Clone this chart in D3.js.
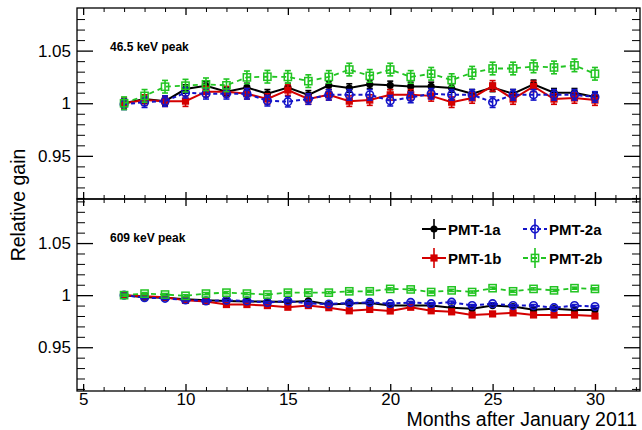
<!DOCTYPE html>
<html><head><meta charset="utf-8">
<script src="https://cdnjs.cloudflare.com/ajax/libs/d3/7.8.5/d3.min.js"></script>
<style>body{margin:0;background:#fff}svg{display:block}text{font-family:"Liberation Sans",Arial,sans-serif}</style>
</head><body><svg id="c" width="642" height="430"></svg>
<script>
const months = [7,8,9,10,11,12,13,14,15,16,17,18,19,20,21,22,23,24,25,26,27,28,29,30];
const seriesNames = ["PMT-1a","PMT-1b","PMT-2a","PMT-2b"];
// 46.5 keV peak
const up1a = [1.000,1.004,1.002,1.0135,1.0165,1.011,1.015,1.009,1.015,1.008,1.017,1.0145,1.018,1.017,1.016,1.016,1.0145,1.009,1.015,1.009,1.018,1.010,1.010,1.006];
const up1b = [1.000,1.003,1.002,1.002,1.011,1.011,1.009,1.004,1.0125,1.004,1.008,1.002,1.003,1.008,1.008,1.007,1.001,1.005,1.0165,1.004,1.016,1.004,1.005,1.003];
const up2a = [0.999,1.001,1.002,1.010,1.009,1.009,1.009,1.0024,1.0015,1.004,1.008,1.008,1.008,1.0024,1.0055,1.009,1.008,1.008,1.001,1.008,1.008,1.008,1.008,1.006];
const up2b = [1.000,1.007,1.0157,1.0167,1.018,1.017,1.0246,1.0252,1.025,1.021,1.025,1.032,1.026,1.032,1.025,1.028,1.022,1.029,1.033,1.033,1.035,1.034,1.036,1.028];
const upErr1a = [0.004,0.004,0.004,0.004,0.004,0.004,0.004,0.004,0.004,0.004,0.004,0.004,0.004,0.004,0.004,0.004,0.004,0.004,0.004,0.004,0.004,0.004,0.004,0.004];
const upErr1b = [0.005,0.005,0.005,0.005,0.005,0.005,0.005,0.005,0.005,0.005,0.005,0.005,0.005,0.005,0.005,0.005,0.005,0.005,0.005,0.005,0.005,0.005,0.005,0.005];
const upErr2a = [0.005,0.005,0.005,0.005,0.005,0.005,0.005,0.005,0.005,0.005,0.005,0.005,0.005,0.005,0.005,0.005,0.005,0.005,0.005,0.005,0.005,0.005,0.005,0.005];
const upErr2b = [0.006,0.006,0.006,0.006,0.006,0.006,0.006,0.006,0.006,0.006,0.006,0.006,0.006,0.006,0.006,0.006,0.006,0.006,0.006,0.006,0.006,0.006,0.006,0.006];
// 609 keV peak
const lo1a = [1.000,0.998,0.9976,0.996,0.995,0.9945,0.994,0.994,0.9935,0.9945,0.991,0.992,0.9924,0.990,0.990,0.990,0.9878,0.987,0.990,0.989,0.986,0.987,0.9857,0.9857];
const lo1b = [1.000,0.999,0.998,0.995,0.994,0.991,0.991,0.990,0.9884,0.990,0.988,0.985,0.9863,0.9848,0.9884,0.985,0.984,0.981,0.982,0.983,0.981,0.981,0.981,0.980];
const lo2a = [1.000,0.9976,0.997,0.9954,0.9945,0.995,0.9945,0.993,0.9945,0.992,0.9915,0.9924,0.993,0.9918,0.993,0.9918,0.9933,0.990,0.9918,0.990,0.990,0.988,0.990,0.989];
const lo2b = [1.000,1.0015,1.0006,0.9994,1.0015,1.0024,1.0015,1.0006,1.0024,1.0024,1.0024,1.0037,1.0037,1.006,1.0055,1.003,1.0046,1.003,1.0067,1.0037,1.006,1.0046,1.0067,1.006];
const loErr = [0.001,0.001,0.001,0.001,0.001,0.001,0.001,0.001,0.001,0.001,0.001,0.001,0.001,0.001,0.001,0.001,0.001,0.001,0.001,0.001,0.001,0.001,0.001,0.001];
const xTicks = [5,10,15,20,25,30];
const yTicks = [0.95,1,1.05];
const yTickLabels = ["0.95","1","1.05"];
const panelLabels = ["46.5 keV peak","609 keV peak"];
const xTitle = "Months after January 2011";
const yTitle = "Relative gain";

const L=77, R=640, T1=8, D=199, B=391;
const svg = d3.select("#c");
svg.append("rect").attr("width",642).attr("height",430).attr("fill","#fff");
const x = d3.scaleLinear().domain([4.7,32.2]).range([L,R]);
const yU = d3.scaleLinear().domain([0.909,1.0905]).range([D,T1]);
const yL = d3.scaleLinear().domain([0.908,1.0923]).range([B,D]);

const styles = {
  "PMT-1a": {color:"#000000", dash:null, marker:"circleF", w:2},
  "PMT-1b": {color:"#d40000", dash:null, marker:"squareF", w:2},
  "PMT-2a": {color:"#1414c8", dash:"4,3", marker:"circleO", w:2},
  "PMT-2b": {color:"#22c422", dash:"5,4", marker:"squareO", w:1.8}
};

function marker(g, type, cx, cy, color){
  if(type==="circleF") g.append("circle").attr("cx",cx).attr("cy",cy).attr("r",3.6).attr("fill",color);
  else if(type==="squareF") g.append("rect").attr("x",cx-3.6).attr("y",cy-3.6).attr("width",7.2).attr("height",7.2).attr("fill",color);
  else if(type==="circleO") g.append("circle").attr("cx",cx).attr("cy",cy).attr("r",3.8).attr("fill","none").attr("stroke",color).attr("stroke-width",1.6);
  else g.append("rect").attr("x",cx-3.6).attr("y",cy-3.6).attr("width",7.2).attr("height",7.2).attr("fill","none").attr("stroke",color).attr("stroke-width",1.5);
}

function drawSeries(g, y, name, vals, errs){
  const s = styles[name];
  const pts = months.map((m,i)=>[m,vals[i],errs[i]]);
  g.append("path").datum(pts).attr("fill","none").attr("stroke",s.color).attr("stroke-width",s.w)
    .attr("stroke-dasharray",s.dash).attr("d",d3.line().x(d=>x(d[0])).y(d=>y(d[1])));
  pts.forEach(d=>{
    const cx=x(d[0]), y0=y(d[1]-d[2]), y1=y(d[1]+d[2]);
    g.append("line").attr("x1",cx).attr("x2",cx).attr("y1",y0).attr("y2",y1).attr("stroke",s.color).attr("stroke-width",1.6);
    [y0,y1].forEach(yy=>g.append("line").attr("x1",cx-3).attr("x2",cx+3).attr("y1",yy).attr("y2",yy).attr("stroke",s.color).attr("stroke-width",1.6));
    marker(g, s.marker, cx, y(d[1]), s.color);
  });
}

function panel(y, top, bottom, data, label){
  const g = svg.append("g");
  const clip = "clip"+top;
  svg.append("clipPath").attr("id",clip).append("rect").attr("x",L).attr("y",top).attr("width",R-L).attr("height",bottom-top);
  const dg = g.append("g").attr("clip-path","url(#"+clip+")");
  data.forEach(([n,v,e])=>drawSeries(dg,y,n,v,e));
  g.append("rect").attr("x",L).attr("y",top).attr("width",R-L).attr("height",bottom-top).attr("fill","none").attr("stroke","#000").attr("stroke-width",1.3);
  const minorY = d3.range(0.91,1.095,0.01).map(v=>+v.toFixed(2)).filter(v=>!yTicks.includes(v) && y(v)>top+1 && y(v)<bottom-1);
  const la = g.append("g").attr("transform",`translate(${L},0)`)
    .call(d3.axisLeft(y).tickValues(yTicks).tickSize(-16).tickPadding(6).tickFormat((d,i)=>yTickLabels[i]));
  la.select(".domain").remove();
  la.selectAll("text").attr("font-size",17).attr("font-family","Liberation Sans, Arial, sans-serif").attr("fill","#000");
  la.selectAll("line").attr("stroke-width",1.3);
  const lm = g.append("g").attr("transform",`translate(${L},0)`).call(d3.axisLeft(y).tickValues(minorY).tickSize(-8).tickFormat(""));
  lm.select(".domain").remove();
  const ra = g.append("g").attr("transform",`translate(${R},0)`).call(d3.axisRight(y).tickValues(yTicks).tickSize(-16).tickFormat(""));
  ra.select(".domain").remove(); ra.selectAll("line").attr("stroke-width",1.3);
  const rm = g.append("g").attr("transform",`translate(${R},0)`).call(d3.axisRight(y).tickValues(minorY).tickSize(-8).tickFormat(""));
  rm.select(".domain").remove();
  const minorX = d3.range(5,33,1).filter(v=>!xTicks.includes(v));
  [[bottom,-1],[top,1]].forEach(([yy,dir])=>{
    const ax = dir<0 ? d3.axisBottom(x) : d3.axisTop(x);
    const a1 = g.append("g").attr("transform",`translate(0,${yy})`).call(ax.tickValues(xTicks).tickSize(-7).tickFormat(""));
    a1.select(".domain").remove(); a1.selectAll("line").attr("stroke-width",1.3);
    const ax2 = dir<0 ? d3.axisBottom(x) : d3.axisTop(x);
    const a2 = g.append("g").attr("transform",`translate(0,${yy})`).call(ax2.tickValues(minorX).tickSize(-4).tickFormat(""));
    a2.select(".domain").remove();
  });
  g.append("text").attr("x",110).attr("y",top+43).attr("font-size",12).attr("font-weight","bold").text(label);
}

panel(yU, T1, D, [["PMT-1a",up1a,upErr1a],["PMT-1b",up1b,upErr1b],["PMT-2a",up2a,upErr2a],["PMT-2b",up2b,upErr2b]], panelLabels[0]);
panel(yL, D, B, [["PMT-1a",lo1a,loErr],["PMT-1b",lo1b,loErr],["PMT-2a",lo2a,loErr],["PMT-2b",lo2b,loErr]], panelLabels[1]);

const xa = svg.append("g").attr("transform",`translate(0,${B})`).call(d3.axisBottom(x).tickValues(xTicks).tickSize(0).tickPadding(2));
xa.select(".domain").remove();
xa.selectAll("text").attr("font-size",17).attr("font-family","Liberation Sans, Arial, sans-serif").attr("fill","#000");
svg.append("text").attr("x",637).attr("y",426).attr("text-anchor","end").attr("font-size",19.5).text(xTitle);
svg.append("text").attr("transform","translate(25,205) rotate(-90)").attr("text-anchor","middle").attr("font-size",19.5).text(yTitle);

const leg = svg.append("g");
const legPos = {"PMT-1a":[434,229],"PMT-2a":[535,229],"PMT-1b":[434,258],"PMT-2b":[535,258]};
seriesNames.forEach(n=>{
  const s=styles[n], [cx,cy]=legPos[n];
  leg.append("line").attr("x1",cx-12).attr("x2",cx+12).attr("y1",cy).attr("y2",cy).attr("stroke",s.color).attr("stroke-width",s.w).attr("stroke-dasharray",s.dash);
  leg.append("line").attr("x1",cx).attr("x2",cx).attr("y1",cy-10).attr("y2",cy+10).attr("stroke",s.color).attr("stroke-width",1.6);
  marker(leg, s.marker, cx, cy, s.color);
  leg.append("text").attr("x",cx+14).attr("y",cy+5.5).attr("font-size",15).attr("font-weight","bold").text(n);
});
</script></body></html>
